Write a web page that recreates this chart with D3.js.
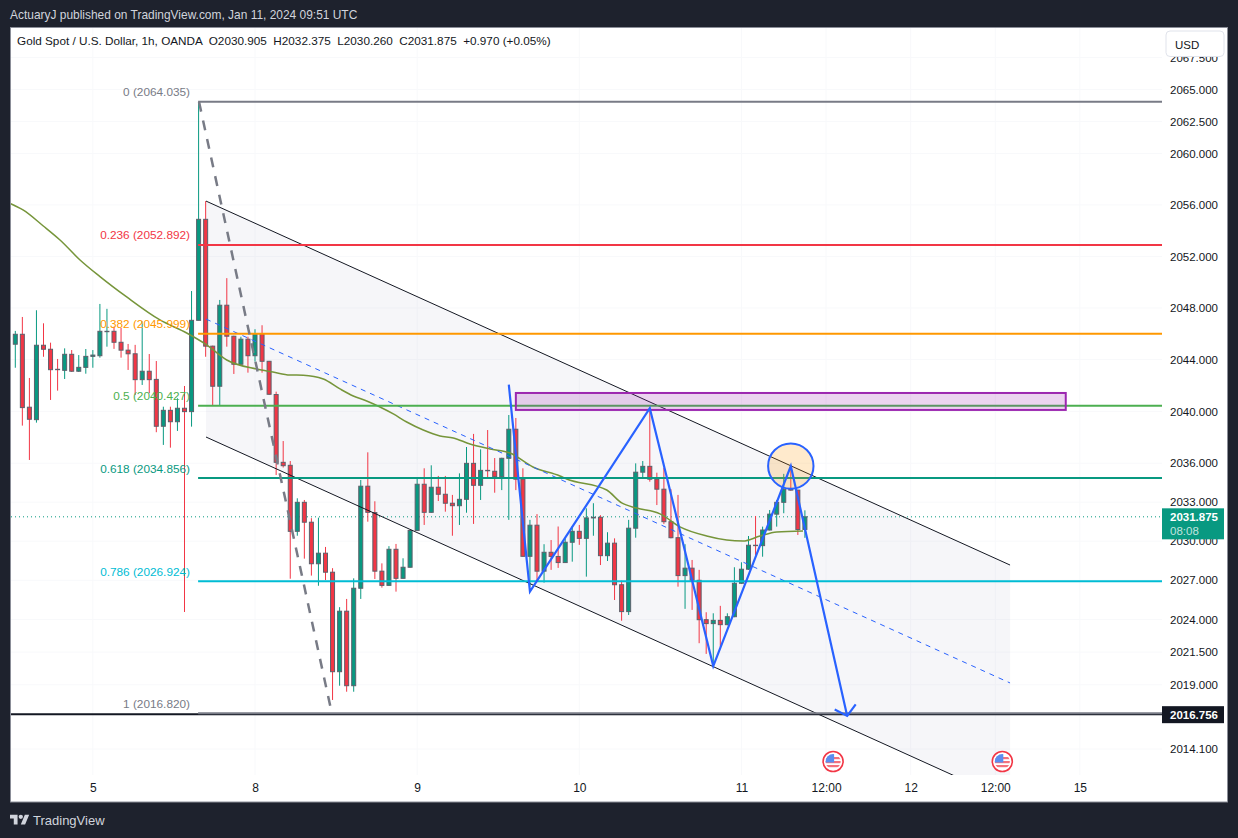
<!DOCTYPE html>
<html>
<head>
<meta charset="utf-8">
<script src="https://cdn.jsdelivr.net/npm/d3@7"></script>
<style>
  html, body { margin: 0; padding: 0; background: #1e222d; }
  svg { display: block; }
  text { font-family: "Liberation Sans", sans-serif; white-space: pre; }
</style>
</head>
<body>
<div class="container"></div>
<script>
// hourly candles, one entry per bar, first bar is Jan 4 evening
const opens = [2045.19,2045.96,2040.32,2039.36,2045.11,2044.80,2043.25,2043.17,2044.41,2043.10,2043.40,2044.25,2044.30,2046.16,2046.19,2045.34,2044.73,2044.45,2042.45,2043.10,
  2042.47,2038.85,2040.08,2039.20,2040.24,2039.98,2047.04,2054.88,2045.04,2041.94,2048.21,2045.81,2043.64,2045.58,2044.30,2046.01,2043.87,2041.30,2036.07,2035.84,
  2030.76,2032.99,2031.46,2028.27,2029.08,2027.62,2020.00,2024.63,2018.93,2026.39,2034.23,2032.20,2027.70,2026.61,2029.38,2027.15,2028.00,2030.83,2034.38,2032.22,
  2034.15,2033.61,2032.92,2032.73,2033.22,2035.99,2034.30,2035.45,2035.38,2034.96,2036.38,2038.62,2034.77,2028.84,2031.23,2027.70,2029.15,2028.83,2028.36,2029.92,
  2030.76,2030.22,2031.79,2031.84,2028.89,2029.85,2026.66,2024.60,2031.00,2035.31,2035.76,2034.77,2034.00,2031.50,2030.27,2027.36,2027.93,2027.00,2023.98,2023.68,
  2023.93,2023.60,2024.21,2026.77,2027.85,2029.69,2029.66,2030.86,2032.08,2032.99,2034.00,2033.93,2030.905];
const highs = [2046.22,2047.30,2042.58,2047.82,2046.81,2045.31,2044.05,2044.87,2044.74,2044.35,2044.82,2044.74,2048.31,2047.93,2046.55,2046.45,2045.21,2045.14,2046.97,2044.43,
  2043.89,2040.36,2040.36,2041.01,2041.96,2049.31,2064.03,2056.30,2045.08,2048.62,2050.31,2045.85,2045.77,2045.77,2046.35,2046.66,2043.90,2041.52,2037.71,2036.17,
  2033.30,2033.17,2031.77,2031.81,2029.56,2027.93,2024.94,2025.57,2027.15,2034.71,2036.84,2033.07,2028.30,2029.62,2029.79,2028.69,2030.86,2034.92,2035.61,2035.84,
  2035.02,2035.02,2033.56,2035.22,2037.25,2038.26,2037.07,2038.56,2036.40,2036.42,2039.72,2039.49,2035.61,2031.64,2032.08,2029.77,2030.09,2031.13,2030.22,2031.17,
  2031.25,2032.53,2032.92,2032.00,2030.69,2030.22,2026.97,2031.64,2035.99,2036.17,2040.24,2035.27,2035.65,2034.00,2033.56,2029.77,2028.56,2027.80,2024.55,2024.47,
  2025.04,2024.47,2028.00,2028.38,2030.40,2031.94,2031.12,2032.40,2033.17,2035.18,2035.86,2033.95,2032.375];
const lows = [2043.37,2038.90,2036.25,2039.13,2044.22,2040.88,2041.60,2042.50,2043.04,2043.04,2042.91,2043.37,2044.15,2045.00,2044.83,2044.15,2043.20,2041.27,2042.04,2041.40,
  2038.39,2037.41,2037.20,2038.49,2024.57,2038.82,2047.04,2044.22,2040.49,2040.49,2045.00,2042.89,2043.56,2042.99,2043.84,2042.99,2041.27,2035.09,2035.67,2027.12,
  2030.42,2028.66,2027.36,2026.58,2027.02,2017.84,2018.93,2018.47,2018.47,2025.57,2031.50,2027.10,2026.44,2026.58,2026.13,2027.12,2027.97,2030.80,2031.25,2032.19,
  2033.09,2032.27,2030.42,2031.25,2032.19,2031.33,2033.17,2034.92,2033.73,2033.93,2031.64,2033.93,2028.81,2026.51,2026.92,2026.82,2027.80,2027.95,2028.33,2028.43,
  2029.72,2027.28,2030.42,2028.17,2028.48,2025.49,2023.90,2024.34,2030.27,2034.84,2034.58,2032.78,2031.33,2030.22,2026.51,2024.81,2024.73,2022.18,2021.36,2020.51,
  2021.91,2023.55,2024.17,2026.72,2027.80,2028.94,2028.81,2030.83,2031.12,2032.15,2033.88,2030.48,2030.26];
const closes = [2045.96,2040.29,2039.39,2045.11,2044.80,2043.22,2043.22,2044.41,2043.10,2043.40,2044.25,2044.35,2046.19,2046.19,2045.34,2044.73,2044.45,2042.45,2043.10,2042.45,
  2038.85,2040.08,2039.20,2040.24,2039.98,2047.04,2054.88,2045.04,2041.94,2048.21,2045.81,2043.64,2045.58,2044.30,2046.01,2043.87,2041.32,2036.07,2035.81,2030.76,
  2032.99,2031.46,2028.27,2029.08,2027.62,2020.00,2024.63,2018.93,2026.39,2034.23,2032.22,2027.70,2026.61,2029.38,2027.15,2028.00,2030.83,2034.38,2032.22,2034.15,
  2033.61,2032.92,2032.73,2033.22,2035.99,2034.30,2035.45,2035.42,2034.96,2036.38,2038.62,2034.77,2028.84,2031.23,2027.70,2029.15,2028.83,2028.36,2029.92,2030.76,
  2030.22,2031.79,2031.84,2028.89,2029.85,2026.66,2024.60,2031.00,2035.31,2035.76,2034.77,2034.00,2031.50,2030.27,2027.36,2027.93,2027.00,2023.98,2023.68,2023.93,
  2023.60,2024.21,2026.77,2027.85,2029.69,2029.66,2030.86,2032.08,2032.99,2034.00,2033.93,2030.90,2031.875];

const maBars = [-0.65,1.09,3.97,6.34,9.18,12.01,15.8,20.52,24.31,27.15,29.99,34.24,36.55,38.96,40.85,43.69,46.06,47.94,49.84,51.73,53.62,55.52,57.87,60.24,62.13,64.5,67.33,70.17,73.43,77.26,78.21,83.89,86.01,88.14,91.45,94.28,98.07,100.91,103.22,105.63,108,111.73];
const maValues = [2056.09,2055.61,2054.36,2053.27,2051.72,2050.43,2048.85,2047.07,2046.06,2045.14,2043.97,2043.27,2043.04,2042.81,2042.79,2042.50,2041.73,2041.19,2040.80,2040.34,2039.80,2039.18,2038.56,2038.10,2037.95,2037.48,2037.10,2036.79,2035.71,2035.02,2034.79,2033.94,2032.94,2032.55,2032.10,2031.10,2030.40,2030.09,2030.01,2030.40,2030.71,2030.79];

// fibonacci retracement
const fibRatios = ["0", "0.236", "0.382", "0.5", "0.618", "0.786", "1"];
const fibPrices = [2064.035, 2052.892, 2045.999, 2040.427, 2034.856, 2026.924, 2016.820];
const fibColors = ["#787b86", "#f23645", "#ff9800", "#4caf50", "#089981", "#00bcd4", "#787b86"];

// axes
const priceTicks = [2067.5, 2065, 2062.5, 2060, 2056, 2052, 2048, 2044, 2040, 2036, 2033, 2030, 2027, 2024, 2021.5, 2019, 2014.1];
const timeBars = [11, 34, 57, 80, 103, 115, 127, 139, 151];
const timeLabels = ["5", "8", "9", "10", "11", "12:00", "12", "12:00", "15"];

// drawings
const channelBars = [27.05, 141.1];
const channelUpper = [2056.30, 2028.17];
const channelMiddle = [2047.14, 2019.14];
const channelLower = [2038.02, 2010.14];
const zigBars = [70, 73, 90, 99, 110, 118];
const zigPrices = [2042.06, 2026.13, 2040.24, 2020.43, 2035.78, 2016.62];
const dashBars = [26.06, 44.9];
const dashPrices = [2064.035, 2016.82];
const boxBars = [71, 149];
const boxPrices = [2041.42, 2040.11];
const circleBar = 110;
const circlePrice = 2035.78;
const eventBars = [116, 140];
const lastPrice = 2031.875;
const supportPrice = 2016.756;

const upColor = "#089981";
const downColor = "#f23645";
const plotRight = 1162;
const plotBottom = 775;

let svg = d3.select(".container")
  .append("svg")
  .attr("width", 1238)
  .attr("height", 838);

let x = d3.scaleLinear().domain([0, 112]).range([15.3, 804.9]);
let y = d3.scaleLog().domain([2014.1, 2065]).range([749, 89.5]);

svg.append("text")
  .attr("x", 10)
  .attr("y", 19)
  .attr("font-size", 11.95)
  .attr("fill", "#d1d4dc")
  .text("ActuaryJ published on TradingView.com, Jan 11, 2024 09:51 UTC");

svg.append("rect")
  .attr("x", 10.5)
  .attr("y", 27.5)
  .attr("width", 1217)
  .attr("height", 774.5)
  .attr("fill", "#ffffff")
  .attr("stroke", "#8b8e98");

svg.append("clipPath")
  .attr("id", "plot")
  .append("rect")
  .attr("x", 11)
  .attr("y", 28)
  .attr("width", plotRight - 11)
  .attr("height", plotBottom - 28);

let grid = svg.append("g").attr("class", "grid");
priceTicks.forEach(p => {
  grid.append("line")
    .attr("x1", 11)
    .attr("x2", plotRight)
    .attr("y1", y(p))
    .attr("y2", y(p))
    .attr("stroke", "#f8f9fb");
});
timeBars.forEach(b => {
  grid.append("line")
    .attr("x1", x(b))
    .attr("x2", x(b))
    .attr("y1", 28)
    .attr("y2", plotBottom)
    .attr("stroke", "#f8f9fb");
});

let chart = svg.append("g").attr("clip-path", "url(#plot)");

// channel fill goes under the candles
chart.append("path")
  .attr("d", d3.line()([
    [x(channelBars[0]), y(channelUpper[0])],
    [x(channelBars[1]), y(channelUpper[1])],
    [x(channelBars[1]), y(channelLower[1])],
    [x(channelBars[0]), y(channelLower[0])]
  ]) + "Z")
  .attr("fill", "#7a7aa5")
  .attr("fill-opacity", 0.07);

// dotted last price line
chart.append("line")
  .attr("x1", 11)
  .attr("x2", plotRight)
  .attr("y1", y(lastPrice))
  .attr("y2", y(lastPrice))
  .attr("stroke", upColor)
  .attr("stroke-dasharray", "1 3");

// candles
let candles = chart.append("g").attr("class", "candles");
opens.forEach((o, i) => {
  const c = closes[i];
  const color = c >= o ? upColor : downColor;
  candles.append("line")
    .attr("x1", x(i))
    .attr("x2", x(i))
    .attr("y1", y(highs[i]))
    .attr("y2", y(lows[i]))
    .attr("stroke", color)
    .attr("stroke-width", 1);
  candles.append("rect")
    .attr("x", x(i) - 2)
    .attr("y", y(Math.max(o, c)))
    .attr("width", 4)
    .attr("height", Math.abs(y(o) - y(c)))
    .attr("fill", color)
    .attr("stroke", "#5d606b")
    .attr("stroke-width", 1);
});

// moving average
chart.append("path")
  .datum(maBars)
  .attr("d", d3.line()
    .x(d => x(d))
    .y((d, i) => y(maValues[i]))
    .curve(d3.curveMonotoneX))
  .attr("fill", "none")
  .attr("stroke", "#76953a")
  .attr("stroke-width", 1.5);

// channel lines
[channelUpper, channelLower].forEach(vals => {
  chart.append("line")
    .attr("x1", x(channelBars[0]))
    .attr("x2", x(channelBars[1]))
    .attr("y1", y(vals[0]))
    .attr("y2", y(vals[1]))
    .attr("stroke", "#131722")
    .attr("stroke-width", 1);
});
chart.append("line")
  .attr("x1", x(channelBars[0]))
  .attr("x2", x(channelBars[1]))
  .attr("y1", y(channelMiddle[0]))
  .attr("y2", y(channelMiddle[1]))
  .attr("stroke", "#2962ff")
  .attr("stroke-width", 1)
  .attr("stroke-dasharray", "5 5");

// support line, the last fib level sits on top of it
chart.append("line")
  .attr("x1", 11)
  .attr("x2", plotRight)
  .attr("y1", y(supportPrice))
  .attr("y2", y(supportPrice))
  .attr("stroke", "#131722")
  .attr("stroke-width", 2);

// fib levels and labels
fibPrices.forEach((p, i) => {
  chart.append("line")
    .attr("x1", x(26) - 0.5)
    .attr("x2", plotRight)
    .attr("y1", y(p))
    .attr("y2", y(p))
    .attr("stroke", fibColors[i])
    .attr("stroke-width", 2);
  chart.append("text")
    .attr("x", 190)
    .attr("y", y(p) - 5.5)
    .attr("text-anchor", "end")
    .attr("font-size", 11.8)
    .attr("fill", fibColors[i])
    .text(fibRatios[i] + " (" + d3.format(".3f")(p) + ")");
});

// gray dashed leg of the fib
chart.append("line")
  .attr("x1", x(dashBars[0]))
  .attr("x2", x(dashBars[1]))
  .attr("y1", y(dashPrices[0]))
  .attr("y2", y(dashPrices[1]))
  .attr("stroke", "#787b86")
  .attr("stroke-width", 2.5)
  .attr("stroke-dasharray", "10 9");

// resistance box
chart.append("rect")
  .attr("x", x(boxBars[0]))
  .attr("y", y(boxPrices[0]))
  .attr("width", x(boxBars[1]) - x(boxBars[0]))
  .attr("height", y(boxPrices[1]) - y(boxPrices[0]))
  .attr("fill", "#9c27b0")
  .attr("fill-opacity", 0.2)
  .attr("stroke", "#9c27b0")
  .attr("stroke-width", 2);

// circle on the last swing high
chart.append("circle")
  .attr("cx", x(circleBar))
  .attr("cy", y(circlePrice))
  .attr("r", 22.7)
  .attr("fill", "#ff9800")
  .attr("fill-opacity", 0.2)
  .attr("stroke", "#2962ff")
  .attr("stroke-width", 2);

// blue path with arrow head
chart.append("path")
  .datum(zigBars)
  .attr("d", d3.line()
    .x(d => x(d))
    .y((d, i) => y(zigPrices[i])))
  .attr("fill", "none")
  .attr("stroke", "#2962ff")
  .attr("stroke-width", 2.2);
let tipX = x(zigBars[5]);
let tipY = y(zigPrices[5]);
chart.append("path")
  .attr("d", `M${tipX - 12.5},${tipY - 6.5}L${tipX},${tipY}L${tipX + 8.5},${tipY - 11.5}`)
  .attr("fill", "none")
  .attr("stroke", "#2962ff")
  .attr("stroke-width", 2.2);

// earnings flags
eventBars.forEach((b, i) => {
  let flag = svg.append("g")
    .attr("transform", `translate(${x(b)},761.5)`);
  svg.append("clipPath")
    .attr("id", "flag" + i)
    .append("circle")
    .attr("cx", x(b))
    .attr("cy", 761.5)
    .attr("r", 7.5);
  flag.append("circle")
    .attr("r", 10)
    .attr("fill", "#ffffff")
    .attr("stroke", "#f23645")
    .attr("stroke-width", 1.6);
  let inner = svg.append("g")
    .attr("clip-path", `url(#flag${i})`)
    .append("g")
    .attr("transform", `translate(${x(b)},761.5)`);
  [-4, 0, 4].forEach(s => {
    inner.append("rect")
      .attr("x", -8)
      .attr("y", s - 0.5)
      .attr("width", 16)
      .attr("height", 2.2)
      .attr("fill", "#f4717c");
  });
  inner.append("rect")
    .attr("x", -8)
    .attr("y", -8)
    .attr("width", 9)
    .attr("height", 9)
    .attr("fill", "#5b8def");
});

// price axis
let priceAxis = svg.append("g")
  .attr("transform", `translate(${plotRight},0)`)
  .call(d3.axisRight(y)
    .tickValues(priceTicks)
    .tickFormat(d3.format(".3f"))
    .tickSize(0)
    .tickPadding(8));
priceAxis.select(".domain").remove();
priceAxis.selectAll("text")
  .attr("font-family", "Liberation Sans")
  .attr("font-size", 11.5)
  .attr("fill", "#131722");

// time axis
let timeAxis = svg.append("g")
  .attr("transform", `translate(0,${plotBottom})`)
  .call(d3.axisBottom(x)
    .tickValues(timeBars)
    .tickFormat((d, i) => timeLabels[i])
    .tickSize(0)
    .tickPadding(8));
timeAxis.select(".domain").remove();
timeAxis.selectAll("text")
  .attr("font-family", "Liberation Sans")
  .attr("font-size", 12)
  .attr("fill", "#131722");

// USD button hides the top tick
svg.append("rect")
  .attr("x", 1166)
  .attr("y", 31)
  .attr("width", 58)
  .attr("height", 25.5)
  .attr("rx", 4)
  .attr("fill", "#ffffff")
  .attr("stroke", "#e0e3eb");
svg.append("text")
  .attr("x", 1175)
  .attr("y", 49)
  .attr("font-size", 11.5)
  .attr("fill", "#131722")
  .text("USD");

// price labels
svg.append("rect")
  .attr("x", plotRight)
  .attr("y", y(lastPrice) - 8.5)
  .attr("width", 62)
  .attr("height", 31)
  .attr("fill", upColor);
svg.append("text")
  .attr("x", 1170)
  .attr("y", y(lastPrice) + 4)
  .attr("font-size", 11.5)
  .attr("font-weight", "bold")
  .attr("fill", "#ffffff")
  .text(d3.format(".3f")(lastPrice));
svg.append("text")
  .attr("x", 1170)
  .attr("y", y(lastPrice) + 18)
  .attr("font-size", 11.5)
  .attr("fill", "#ffffff")
  .attr("fill-opacity", 0.75)
  .text("08:08");
svg.append("rect")
  .attr("x", plotRight)
  .attr("y", y(supportPrice) - 8)
  .attr("width", 62)
  .attr("height", 17)
  .attr("fill", "#131722");
svg.append("text")
  .attr("x", 1170)
  .attr("y", y(supportPrice) + 4.5)
  .attr("font-size", 11.5)
  .attr("font-weight", "bold")
  .attr("fill", "#ffffff")
  .text(d3.format(".3f")(supportPrice));

// legend line
svg.append("text")
  .attr("x", 17)
  .attr("y", 45)
  .attr("font-size", 11.74)
  .attr("fill", "#131722")
  .text("Gold Spot / U.S. Dollar, 1h, OANDA  O2030.905  H2032.375  L2030.260  C2031.875  +0.970 (+0.05%)");

// footer logo
let logo = svg.append("g")
  .attr("transform", "translate(10,812.5) scale(0.54)")
  .attr("fill", "#d1d4dc");
logo.append("path").attr("d", "M14 22H7V11H0V4h14v18zM28 22h-8l7.5-18h8L28 22z");
logo.append("circle").attr("cx", 20).attr("cy", 8).attr("r", 4);
svg.append("text")
  .attr("x", 33)
  .attr("y", 825)
  .attr("font-size", 13)
  .attr("fill", "#d1d4dc")
  .text("TradingView");
</script>
</body>
</html>
